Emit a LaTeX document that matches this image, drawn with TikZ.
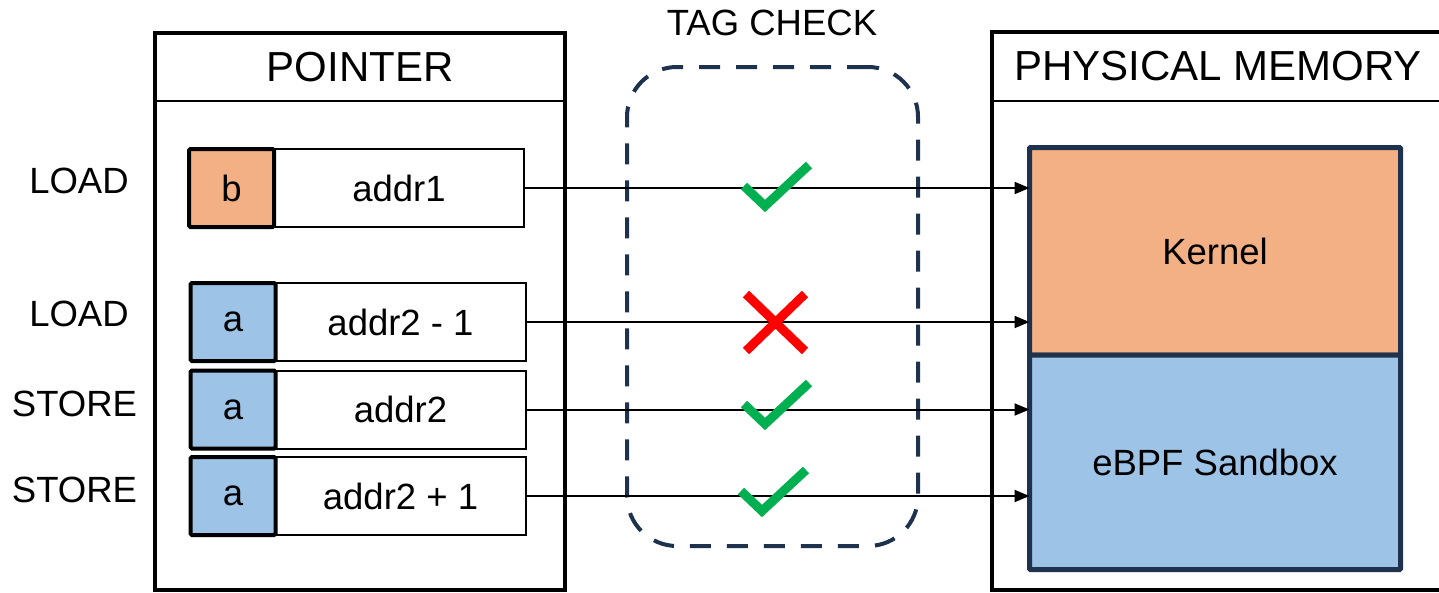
\documentclass[tikz,border=0pt]{standalone}
\usepackage{fontspec}
\setmainfont{Liberation Sans}
\definecolor{tagorange}{RGB}{242,176,132}
\definecolor{tagblue}{RGB}{157,195,230}
\definecolor{memnavy}{RGB}{31,50,77}
\definecolor{okgreen}{RGB}{0,176,80}
\definecolor{badred}{RGB}{255,0,0}
\usetikzlibrary{arrows.meta,positioning}

\begin{document}
\begin{tikzpicture}[
  x=1pt,y=-1pt,
  every node/.style={outer sep=0pt,inner sep=0pt},
  txt/.style={font=\fontsize{36.5}{40}\selectfont},
  panel/.style={draw,line width=4pt,anchor=north west},
  head/.style={draw,line width=2pt,anchor=north west,font=\fontsize{42}{46}\selectfont},
  addrbox/.style={draw,line width=2pt,minimum width=250pt,minimum height=78pt,txt},
  tagbox/.style={draw,line width=4pt,rounded corners=1.5pt,minimum width=85pt,minimum height=78pt,txt},
  region/.style={draw=memnavy,line width=5pt,rounded corners=1pt,minimum width=371pt,txt},
  zone/.style={draw=memnavy,line width=4pt,dash pattern=on 21pt off 16pt,rounded corners=50pt,minimum width=291pt,minimum height=479pt},
  chk/.style={draw=okgreen,line width=9pt,line join=miter},
  cross/.style={draw=badred,line width=9pt},
  >={Triangle[length=15pt,width=12pt]}
]
  \useasboundingbox (0,0) rectangle (1439,592);

  % pointer side
  \node[head,minimum width=410pt,minimum height=68pt] (ptrhead) at (155,33) {POINTER};
  \node[panel,minimum width=410pt,minimum height=557pt] (ptr) at (155,33) {};

  \node[addrbox] (a1) at (399,188) {addr1};
  \node[addrbox] (a2) at (400.5,322) {addr2 - 1};
  \node[addrbox] (a3) at (400.5,409.5) {addr2};
  \node[addrbox] (a4) at (400.5,496) {addr2 + 1};
  \node[tagbox,fill=tagorange,left=0pt of a1] (t1) {b};
  \node[tagbox,fill=tagblue,left=0pt of a2] (t2) {a};
  \node[tagbox,fill=tagblue,left=0pt of a3] (t3) {a};
  \node[tagbox,fill=tagblue,left=0pt of a4] (t4) {a};

  \node[txt] (op1) at (79,181) {LOAD};
  \node[txt] (op2) at (79,314) {LOAD};
  \node[txt] (op3) at (74.5,404) {STORE};
  \node[txt] (op4) at (74.5,490) {STORE};

  % memory side
  \node[head,minimum width=452pt,minimum height=69pt] (memhead) at (992,32) {PHYSICAL MEMORY};
  \node[panel,minimum width=452pt,minimum height=558pt] (mem) at (992,32) {};
  \node[region,fill=tagorange,minimum height=207.5pt,anchor=south] (kern) at (1215,355) {Kernel};
  \node[region,fill=tagblue,minimum height=214.5pt,below=0pt of kern] (sbox) {eBPF Sandbox};

  % tag check
  \node[zone] (zone) at (772.5,306.5) {};
  \node[txt] (zonelbl) at (772,23) {TAG CHECK};

  \draw[->,line width=2pt] (a1.east) -- (a1.east -| kern.west);
  \draw[->,line width=2pt] (a2.east) -- (a2.east -| kern.west);
  \draw[->,line width=2pt] (a3.east) -- (a3.east -| sbox.west);
  \draw[->,line width=2pt] (a4.east) -- (a4.east -| sbox.west);

  \foreach \bx/\by in {765/206, 765/424, 762/511}
    \draw[chk] (\bx-21,\by-20) -- (\bx,\by) -- (\bx+44,\by-41);
  \draw[cross] (746,294) -- (805,351) (805,294) -- (746,351);
\end{tikzpicture}
\end{document}
